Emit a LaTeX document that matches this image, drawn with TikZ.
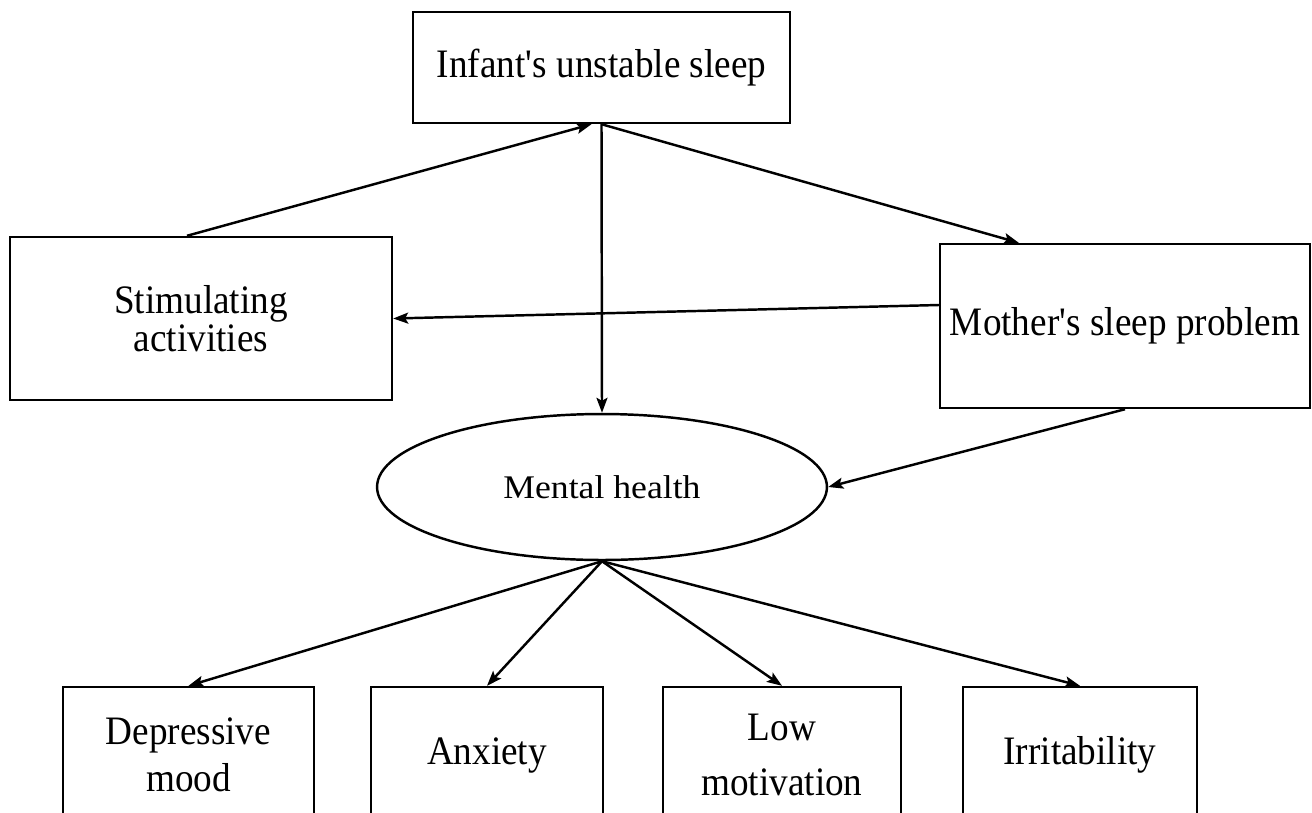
\documentclass[tikz,border=0pt]{standalone}
\usepackage{fontspec}
\setmainfont{Liberation Serif}[FakeStretch=0.92]
\newfontfamily\ovalfont{Liberation Serif}[FakeStretch=1.08]
\usetikzlibrary{shapes,arrows,arrows.meta,positioning}

\begin{document}
\begin{tikzpicture}[
    x=0.02cm, y=-0.02cm,
    box/.style={rectangle, draw, line width=1.4pt, align=center, inner sep=0pt, font=\fontsize{23}{22}\selectfont},
    oval/.style={ellipse, draw, line width=1.4pt, inner sep=0pt, minimum width=9cm, minimum height=2.92cm, font=\ovalfont\fontsize{18.8}{22}\selectfont},
    leaf/.style={box, minimum height=2.72cm},
    arrow/.style={-{Stealth[length=0.3cm, width=0.22cm, inset=0.06cm]}, line width=1.4pt}
]
    \useasboundingbox (0,0) rectangle (1312,812);

    % Nodes
    \node[box, minimum width=7.54cm, minimum height=2.22cm] (infant) at (601.5,67.5) {Infant\textquotesingle s unstable sleep};
    \node[box, minimum width=7.64cm, minimum height=3.26cm] (stim) at (201,318.5) {Stimulating\\activities};
    \node[box, minimum width=7.4cm, minimum height=3.28cm] (mother) at (1125,326) {Mother\textquotesingle s sleep problem};
    \node[oval] (mental) at (602,487) {Mental health};

    \node[leaf, minimum width=5.02cm] (depress) at (188.5,755) {Depressive\\[4.6pt]mood};
    \node[leaf, minimum width=4.64cm] (anxiety) at (487,755) {Anxiety};
    \node[leaf, minimum width=4.76cm] (lowmot) at (782,755) {Low\\[9pt]motivation};
    \node[leaf, minimum width=4.68cm] (irrit) at (1080,755) {Irritability};

    % Arrows
    \draw[arrow] ([xshift=-0.28cm]stim.north) -- ([xshift=-0.2cm]infant.south);
    \draw[arrow] (infant.south) -- (mental.north);
    \draw[arrow] (infant.south) -- ([xshift=1.6cm]mother.north west);
    \draw[arrow] ([yshift=0.42cm]mother.west) -- (stim.east);
    \draw[arrow] (mother.south) -- (mental.east);
    \draw[arrow] (mental.south) -- (depress.north);
    \draw[arrow] (mental.south) -- (anxiety.north);
    \draw[arrow] (mental.south) -- (lowmot.north);
    \draw[arrow] (mental.south) -- (irrit.north);
\end{tikzpicture}
\end{document}
